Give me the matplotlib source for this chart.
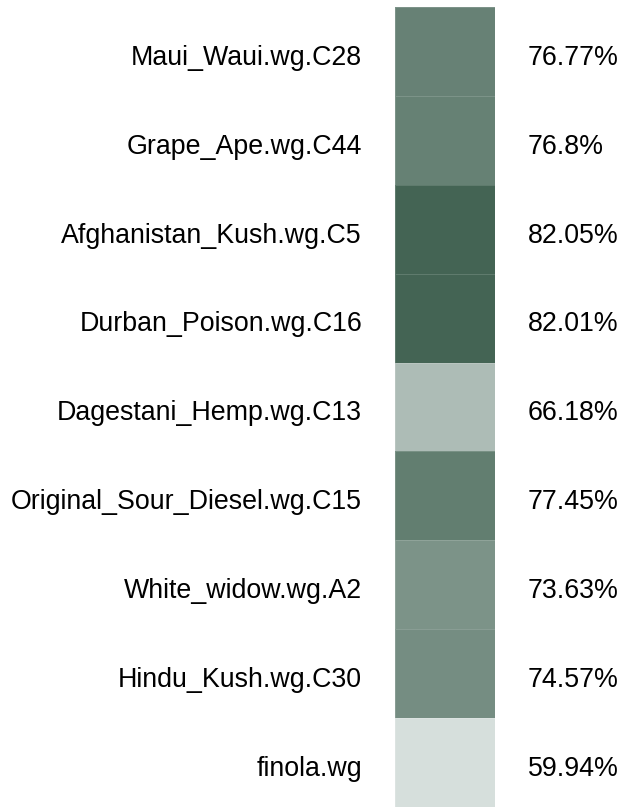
import matplotlib.pyplot as plt
import numpy as np
from matplotlib.colors import LinearSegmentedColormap

# Data (top to bottom)
samples = ["Maui_Waui.wg.C28", "Grape_Ape.wg.C44", "Afghanistan_Kush.wg.C5",
           "Durban_Poison.wg.C16", "Dagestani_Hemp.wg.C13",
           "Original_Sour_Diesel.wg.C15", "White_widow.wg.A2",
           "Hindu_Kush.wg.C30", "finola.wg"]
values = [76.77, 76.8, 82.05, 82.01, 66.18, 77.45, 73.63, 74.57, 59.94]
value_labels = ["76.77%", "76.8%", "82.05%", "82.01%", "66.18%",
                "77.45%", "73.63%", "74.57%", "59.94%"]

plt.rcParams['font.family'] = ['Liberation Sans', 'DejaVu Sans']

W, H = 626, 807
fig = plt.figure(figsize=(W / 100, H / 100), dpi=100)

# heatmap column
x0, x1, y0, y1 = 395, 495, 7, 807
ax = fig.add_axes([x0 / W, 1 - y1 / H, (x1 - x0) / W, (y1 - y0) / H])

cmap = LinearSegmentedColormap.from_list("grn", ["#d6dfdc", "#446454"])
n = len(values)
data = np.array(values).reshape(n, 1)
ax.pcolormesh(data, cmap=cmap, vmin=min(values), vmax=max(values),
              edgecolors=(1, 1, 1, 0.15), linewidth=0.6)
ax.set_xlim(0, 1)
ax.set_ylim(n, 0)
ax.axis("off")

# labels sit on a baseline a bit below the cell middle
for i, (name, lab) in enumerate(zip(samples, value_labels)):
    ax.text(-0.33, i + 0.65, name, ha="right", va="baseline", fontsize=19.3,
            clip_on=False)
    ax.text(1.33, i + 0.65, lab, ha="left", va="baseline", fontsize=19.3,
            clip_on=False)

fig.savefig("out.png", dpi=100)
